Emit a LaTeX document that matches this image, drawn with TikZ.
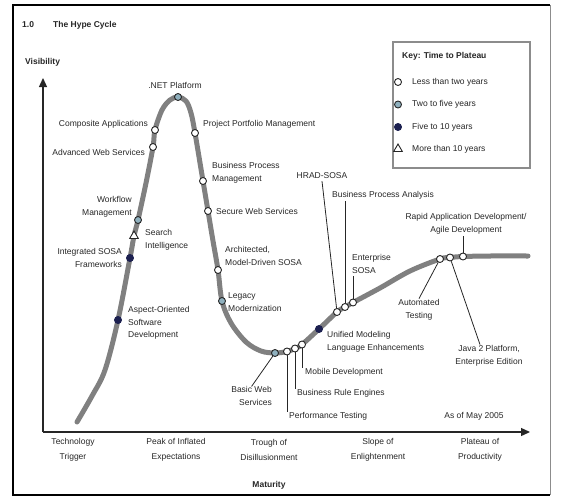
\documentclass[tikz,border=0pt]{standalone}
\usepackage{fontspec}
\setmainfont{Liberation Sans}
\usetikzlibrary{arrows.meta,shapes.geometric}
\definecolor{navymk}{HTML}{1C2050}
\definecolor{bluemk}{HTML}{8FB0BE}
\definecolor{inkc}{HTML}{262626}
\tikzset{
  lbl/.style={font=\fontsize{8.5}{12.5}\selectfont, inner sep=0pt, text=inkc},
  stage/.style={font=\fontsize{8.5}{15}\selectfont, inner sep=0pt, text=inkc, align=center},
  heading/.style={font=\fontsize{8.5}{11}\selectfont\bfseries, inner sep=0pt, text=inkc},
  mk/.style={circle, draw=inkc, line width=0.9pt, minimum size=7pt, inner sep=0pt},
  lesstwo/.style={mk, fill=white},
  twofive/.style={mk, fill=bluemk},
  fiveten/.style={mk, fill=navymk, draw=navymk},
  overten/.style={regular polygon, regular polygon sides=3, draw=inkc, fill=white,
                  line width=0.9pt, minimum size=10pt, inner sep=0pt},
  lead/.style={draw=inkc, line width=0.8pt},
  hype/.style={draw=black!50, line width=5pt, line cap=round, line join=round},
  axis/.style={draw=inkc, line width=1.3pt, -{Triangle[length=9pt,width=8pt]}},
}
\begin{document}
\begin{tikzpicture}[x=1pt,y=-1pt]
\useasboundingbox (0,0) rectangle (562,498);

% frame
\draw[black!45, line width=1pt] (550,5) -- (550,495);
\draw[black, line width=1.5pt] (550,5) -- (13,5) -- (13,495) -- (550,495);

% title
\node[heading, anchor=west] (secno) at (22,25) {1.0};
\node[heading, anchor=west] (title) at (53,25) {The Hype Cycle};

% axes
\coordinate (origin) at (43,432);
\coordinate (ytip) at (43,78);
\coordinate (xtip) at (530,432);
\draw[axis] (origin) -- (ytip);
\draw[axis] (origin) -- (xtip);
\node[heading, anchor=west] (vis) at (25,62) {Visibility};
\node[heading] (mat) at (269,485) {Maturity};

% phases
\node[stage] (ph1) at (73,450) {Technology\\Trigger};
\node[stage] (ph2) at (176,450) {Peak of Inflated\\Expectations};
\node[stage] (ph3) at (269,450) {Trough of\\Disillusionment};
\node[stage] (ph4) at (378,450) {Slope of\\Enlightenment};
\node[stage] (ph5) at (480,450) {Plateau of\\Productivity};
\node[lbl] (asof) at (474,416) {As of May 2005};

% the hype curve
\draw[hype] plot[smooth, tension=0.55] coordinates {
  (77,422) (92,396) (105,370) (118,320) (130,258) (134,236) (138,220)
  (146,183) (153,147) (155,130) (162,110) (170,100) (178,97) (186,101)
  (191,113) (195,133) (203,181) (208,211) (213,241) (218,270) (222,301)
  (231,323) (246,342) (261,351) (275,353) (287,351.5) (295,348.5) (302,344.5)
  (319,329) (337,312) (345,307) (353,302.5) (380,288) (410,271) (440,259)
  (450,257.5) (463,256.5) (490,256) (528,256)};

% technology markers
\node[twofive]  (mNet) at (178,97) {};
\node[lesstwo]  (mCA)  at (155,130) {};
\node[lesstwo]  (mAWS) at (153,147) {};
\node[lesstwo]  (mPPM) at (195,133) {};
\node[lesstwo]  (mBPM) at (203,181) {};
\node[lesstwo]  (mSWS) at (208,211) {};
\node[twofive]  (mWF)  at (138,220) {};
\node[overten]  (mSI)  at (134,236) {};
\node[fiveten]  (mIS)  at (130,258) {};
\node[fiveten]  (mAO)  at (118,320) {};
\node[lesstwo]  (mAM)  at (218,270) {};
\node[twofive]  (mLM)  at (222,301) {};
\node[twofive]  (mBWS) at (275,353) {};
\node[lesstwo]  (mPT)  at (287,351.5) {};
\node[lesstwo]  (mBRE) at (295,348.5) {};
\node[lesstwo]  (mMob) at (302,344.5) {};
\node[fiveten]  (mUML) at (319,329) {};
\node[lesstwo]  (mHR)  at (337,312) {};
\node[lesstwo]  (mBPA) at (345,307) {};
\node[lesstwo]  (mEnt) at (353,302.5) {};
\node[lesstwo]  (mAT)  at (440,259) {};
\node[lesstwo]  (mJ2)  at (450,257.5) {};
\node[lesstwo]  (mRAD) at (463,256.5) {};

% labels placed beside their markers
\node[lbl] (lNet) at (175,85) {.NET Platform};
\node[lbl, anchor=east] (lCA)  at (148,124) {Composite Applications};
\node[lbl, anchor=east] (lAWS) at (145,152) {Advanced Web Services};
\node[lbl, anchor=west] (lPPM) at (203,124) {Project Portfolio Management};
\node[lbl, anchor=west, align=left] (lBPM) at (212,173) {Business Process\\Management};
\node[lbl, anchor=west] (lSWS) at (216,211) {Secure Web Services};
\node[lbl, anchor=east, align=right] (lWF) at (132,207) {Workflow\\Management};
\node[lbl, anchor=west, align=left] (lSI) at (145,240) {Search\\Intelligence};
\node[lbl, anchor=east, align=right] (lIS) at (122,258) {Integrated SOSA\\Frameworks};
\node[lbl, anchor=west, align=left] (lAO) at (128,323) {Aspect-Oriented\\Software\\Development};
\node[lbl, anchor=west, align=left] (lAM) at (225,256) {Architected,\\Model-Driven SOSA};
\node[lbl, anchor=west, align=left] (lLM) at (228,302) {Legacy\\Modernization};
\node[lbl, anchor=west, align=left] (lUML) at (327,342) {Unified Modeling\\Language Enhancements};

% labels reached by leader lines
\node[lbl, anchor=east, align=right] (lBWS) at (272,396) {Basic Web\\Services};
\node[lbl, anchor=west] (lMob) at (302,372) {\hspace{3pt}Mobile Development};
\node[lbl, anchor=west] (lBRE) at (295,393) {\hspace{2pt}Business Rule Engines};
\node[lbl, anchor=west] (lPT)  at (287,416) {\hspace{2pt}Performance Testing};
\node[lbl] (lHR)  at (322,176) {HRAD-SOSA};
\node[lbl, anchor=west] (lBPA) at (332,195) {Business Process Analysis};
\node[lbl, anchor=west, align=left] (lEnt) at (352,264) {Enterprise\\SOSA};
\node[lbl, align=center] (lRAD) at (466,224) {Rapid Application Development/\\Agile Development};
\node[lbl, align=center] (lAT)  at (419,310) {Automated\\Testing};
\node[lbl, align=center] (lJ2)  at (489,356) {Java 2 Platform,\\Enterprise Edition};

\draw[lead] (mBWS) -- (lBWS.north);
\draw[lead] (mMob) -- (mMob |- lMob.north);
\draw[lead] (mBRE) -- (mBRE |- lBRE.north);
\draw[lead] (mPT)  -- (mPT |- lPT.north);
\draw[lead] (mHR)  -- ([yshift=-2pt]lHR.south);
\draw[lead] (mBPA) -- ([yshift=-2pt]mBPA |- lBPA.south);
\draw[lead] (mEnt) -- ([yshift=-2pt]mEnt |- lEnt.south);
\draw[lead] (mRAD) -- ([yshift=-2pt]mRAD |- lRAD.south);
\draw[lead] (mAT)  -- ([yshift=1pt]lAT.north);
\draw[lead] (mJ2)  -- ([xshift=-9pt,yshift=1pt]lJ2.north);

% legend
\draw[black!45, line width=1.5pt, fill=white] (393,42) rectangle (530,168);
\node[heading, anchor=west] (keyt) at (402,56) {Key: Time to Plateau};
\node[lesstwo] (k1) at (398,82) {};
\node[twofive] (k2) at (398,104.5) {};
\node[fiveten] (k3) at (398,127) {};
\node[overten] (k4) at (398,149) {};
\node[lbl, anchor=west] (kt1) at (412,82) {Less than two years};
\node[lbl, anchor=west] (kt2) at (412,104.5) {Two to five years};
\node[lbl, anchor=west] (kt3) at (412,127) {Five to 10 years};
\node[lbl, anchor=west] (kt4) at (412,149.5) {More than 10 years};
\end{tikzpicture}
\end{document}
